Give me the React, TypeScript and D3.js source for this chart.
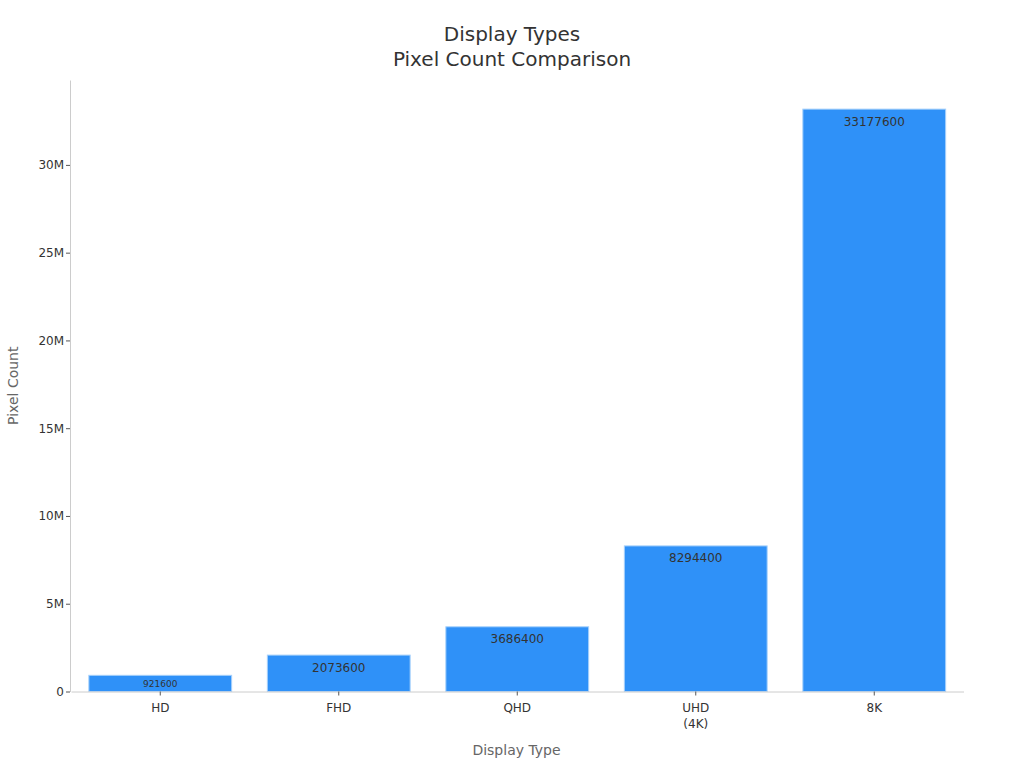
import React, { useEffect, useRef } from "react";
import * as d3 from "d3";

const categories = ["HD", "FHD", "QHD", "UHD\n(4K)", "8K"];
const pixelCounts = [921600, 2073600, 3686400, 8294400, 33177600];
const yTicks = [0, 5e6, 10e6, 15e6, 20e6, 25e6, 30e6];
const yTickLabels = ["0", "5M", "10M", "15M", "20M", "25M", "30M"];

export default function App() {
  const ref = useRef<SVGSVGElement | null>(null);

  useEffect(() => {
    const width = 1024;
    const height = 768;
    const margin = { top: 80, right: 61, bottom: 76, left: 70 };
    const font = "DejaVu Sans, sans-serif";

    const svg = d3.select(ref.current);
    svg.selectAll("*").remove();

    const x = d3
      .scaleBand()
      .domain(categories)
      .range([margin.left + 1, width - margin.right + 0.5])
      .paddingInner(0.2)
      .paddingOuter(0.1);

    const y = d3
      .scaleLinear()
      .domain([0, d3.max(pixelCounts)! * 1.05])
      .range([height - margin.bottom - 0.5, margin.top]);

    // title
    const title = svg
      .append("text")
      .attr("text-anchor", "middle")
      .attr("font-family", font)
      .attr("font-size", 20)
      .attr("fill", "#333");
    title.append("tspan").attr("x", 512).attr("y", 41).text("Display Types");
    title.append("tspan").attr("x", 512).attr("y", 66).text("Pixel Count Comparison");

    // bars
    svg
      .append("g")
      .selectAll("rect")
      .data(pixelCounts)
      .join("rect")
      .attr("x", (_, i) => x(categories[i])!)
      .attr("width", x.bandwidth())
      .attr("y", (d) => y(d))
      .attr("height", (d) => y(0) - y(d))
      .attr("fill", "#2f91f8")
      .attr("stroke", "#a6d0fb")
      .attr("stroke-width", 1);

    // bar labels
    svg
      .append("g")
      .attr("font-family", font)
      .attr("fill", "#333")
      .attr("text-anchor", "middle")
      .selectAll("text")
      .data(pixelCounts)
      .join("text")
      .attr("x", (_, i) => x(categories[i])! + x.bandwidth() / 2)
      .attr("y", (d, i) => (i === 0 ? y(d) + 11.5 : y(d) + 16.5))
      .attr("font-size", (_, i) => (i === 0 ? 9 : 12))
      .text((d) => String(d));

    // y axis
    const yAxis = svg
      .append("g")
      .attr("transform", `translate(${margin.left},0)`)
      .call(
        d3
          .axisLeft(y)
          .tickValues(yTicks)
          .tickFormat((_, i) => yTickLabels[i])
          .tickSize(4)
          .tickSizeOuter(0)
          .tickPadding(2)
      );
    yAxis.select(".domain").attr("stroke", "#ccc");
    yAxis.selectAll(".tick line").attr("stroke", "#555");
    yAxis
      .selectAll(".tick text")
      .attr("font-family", font)
      .attr("font-size", 12)
      .attr("fill", "#333");

    // x axis
    const xAxis = svg
      .append("g")
      .attr("transform", `translate(0,${y(0)})`)
      .call(d3.axisBottom(x).tickSize(4).tickSizeOuter(0).tickPadding(8));
    xAxis.select(".domain").attr("stroke", "#ccc");
    xAxis.selectAll(".tick line").attr("stroke", "#555");
    xAxis
      .selectAll<SVGTextElement, string>(".tick text")
      .attr("font-family", font)
      .attr("font-size", 12)
      .attr("fill", "#333")
      .each(function (d) {
        const t = d3.select(this);
        const lines = d.split("\n");
        t.text(null);
        lines.forEach((line, i) => {
          t.append("tspan")
            .attr("x", 0)
            .attr("dy", i === 0 ? "0.71em" : "1.33em")
            .text(line);
        });
      });
    xAxis.selectAll(".tick text").attr("dy", null);

    // axis titles
    svg
      .append("text")
      .attr("x", (margin.left + width - margin.right) / 2)
      .attr("y", 755)
      .attr("text-anchor", "middle")
      .attr("font-family", font)
      .attr("font-size", 14)
      .attr("fill", "#666")
      .text("Display Type");

    svg
      .append("text")
      .attr("transform", `translate(18,${(margin.top + y(0)) / 2}) rotate(-90)`)
      .attr("text-anchor", "middle")
      .attr("font-family", font)
      .attr("font-size", 14)
      .attr("fill", "#666")
      .text("Pixel Count");
  }, []);

  return (
    <svg
      ref={ref}
      width={1024}
      height={768}
      style={{ position: "absolute", left: 0, top: 0, background: "#fff" }}
    />
  );
}
